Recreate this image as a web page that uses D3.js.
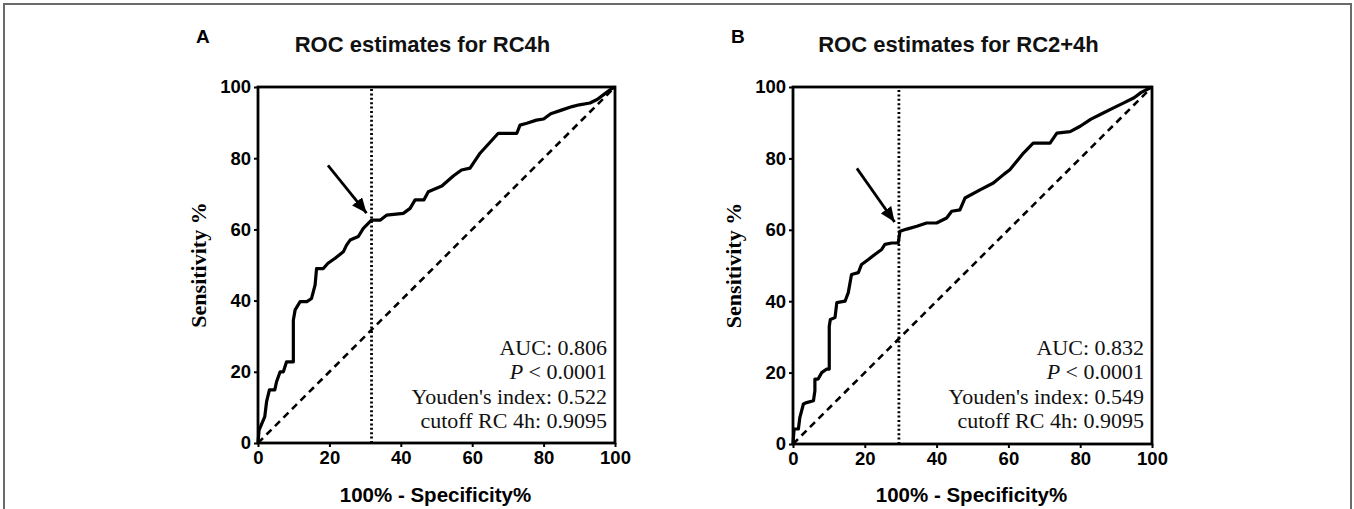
<!DOCTYPE html>
<html>
<head>
<meta charset="utf-8">
<script src="https://cdn.jsdelivr.net/npm/d3@7"></script>
<style>
  body { margin: 0; background: #fff; }
  svg { display: block; }
</style>
</head>
<body>
<svg id="chart" width="1354" height="509"></svg>
<script>
// DATA
// ROC points as [100% - specificity, sensitivity]
const rocA = [
  [0, 0], [0.3, 3.6], [1.9, 7.4], [2.4, 11.6], [3.2, 14.9], [4.7, 14.9], [5.2, 17.2],
  [6.2, 20], [7.1, 20], [8, 22.8], [9.9, 22.8], [9.9, 34.5], [10.4, 37.4], [11.8, 39.7],
  [13.7, 39.7], [15, 40.6], [16, 44.4], [16.4, 49], [18.3, 49], [19.6, 50.5], [21.6, 51.9],
  [23.9, 53.7], [24.8, 55.6], [25.8, 57], [28.1, 58], [29.5, 60.3], [31.8, 62.6],
  [34.2, 62.6], [36, 64], [40.7, 64.5], [42.6, 65.9], [44, 68.3], [46.5, 68.3], [47.7, 70.6],
  [51.5, 72.2], [54.7, 75], [57, 76.7], [59.4, 77.2], [62.2, 81.4], [67.3, 87], [72.5, 87],
  [73.4, 89.3], [75.3, 89.8], [78, 90.7], [80, 91], [82, 92.5], [85, 93.5], [88, 94.5],
  [90, 95], [93, 95.5], [95, 96.5], [97, 98], [99, 99.5], [100, 100]
];
const rocB = [
  [0, 0], [0.3, 4.2], [1.5, 4.2], [1.9, 7.4], [2.9, 11.2], [3.8, 11.6], [5.7, 12.1],
  [6.1, 14.9], [6.1, 18.2], [7, 18.2], [8, 20], [9.4, 21], [10.1, 21], [10.1, 33],
  [10.4, 34.9], [11.7, 35.4], [12.2, 39.6], [14.5, 40], [15.4, 42.4], [16.3, 47.5],
  [18.2, 48], [19.1, 50.3], [21, 51.7], [22.8, 53.1], [24.7, 54.5], [25.6, 55.9],
  [27.5, 56.3], [29.3, 56.3], [29.8, 59.6], [31.7, 60.2], [34.5, 61], [37.2, 61.9],
  [40, 61.9], [42.8, 63.3], [44.2, 65.2], [46.5, 65.6], [47.9, 68.9], [52.1, 71.2],
  [55.8, 73.1], [58.8, 75.6], [60.4, 76.8], [64.2, 81.5], [66.9, 84.3], [71.6, 84.3],
  [73.5, 87.1], [77.2, 87.5], [80, 89], [83, 91], [86, 92.5], [89, 94], [92, 95.5],
  [95, 97], [97, 98.5], [99, 99.5], [100, 100]
];
const chance = [[0, 0], [100, 100]];

const xTicks = [0, 20, 40, 60, 80, 100];
const yTicks = [0, 20, 40, 60, 80, 100];

const cutoffA = 31.8;
const cutoffB = 29.5;

// arrow [start, tip] in data units
const arrowA = [[19.6, 78], [30.4, 64.6]];
const arrowB = [[17.8, 77.2], [28.3, 62.2]];

const statsA = ["AUC: 0.806", "P|< 0.0001", "Youden's index: 0.522", "cutoff RC 4h: 0.9095"];
const statsB = ["AUC: 0.832", "P|< 0.0001", "Youden's index: 0.549", "cutoff RC 4h: 0.9095"];

const panels = [
  { letter: "A", title: "ROC estimates for RC4h", roc: rocA, cutoff: cutoffA, arrow: arrowA,
    stats: statsA, xRange: [258, 615], yRange: [443, 87] },
  { letter: "B", title: "ROC estimates for RC2+4h", roc: rocB, cutoff: cutoffB, arrow: arrowB,
    stats: statsB, xRange: [793, 1152], yRange: [444, 87] }
];

const SANS = "'Liberation Sans', Arial, sans-serif";
const SERIF = "'Liberation Serif', 'Times New Roman', serif";

const svg = d3.select("#chart");

// outer frame (bottom edge is cut off)
svg.append("path")
    .attr("d", "M4,509V4H1351V509")
    .attr("fill", "none")
    .attr("stroke", "#6a6a6a")
    .attr("stroke-width", 2);

// arrow head
svg.append("defs").append("marker")
    .attr("id", "head")
    .attr("markerUnits", "userSpaceOnUse")
    .attr("viewBox", "0 0 14 12")
    .attr("refX", 14)
    .attr("refY", 6)
    .attr("markerWidth", 15)
    .attr("markerHeight", 13)
    .attr("orient", "auto")
  .append("path")
    .attr("d", "M0,0L14,6L0,12Z")
    .attr("fill", "#000");

function drawPanel(p) {
  const x = d3.scaleLinear().domain([0, 100]).range(p.xRange);
  const y = d3.scaleLinear().domain([0, 100]).range(p.yRange);
  const g = svg.append("g");
  const cx = (p.xRange[0] + p.xRange[1]) / 2;

  // letter and title
  g.append("text")
      .attr("x", p.xRange[0] - 62)
      .attr("y", 43)
      .attr("font-family", SANS)
      .attr("font-weight", "bold")
      .attr("font-size", 19)
      .text(p.letter);

  g.append("text")
      .attr("x", cx - 14)
      .attr("y", 52)
      .attr("text-anchor", "middle")
      .attr("font-family", SANS)
      .attr("font-weight", "bold")
      .attr("font-size", 22)
      .attr("fill", "#111")
      .text(p.title);

  // axes
  g.append("g")
      .attr("transform", `translate(0,${p.yRange[0]})`)
      .call(d3.axisBottom(x).tickValues(xTicks).tickSize(4).tickPadding(4))
      .call(ax => {
        ax.select(".domain").remove();
        ax.selectAll("line").attr("stroke-width", 2);
        ax.selectAll("text")
            .attr("font-family", SANS)
            .attr("font-weight", "bold")
            .attr("font-size", 18.5)
            .attr("fill", "#000");
      });

  g.append("g")
      .attr("transform", `translate(${p.xRange[0]},0)`)
      .call(d3.axisLeft(y).tickValues(yTicks).tickSize(4).tickPadding(3))
      .call(ax => {
        ax.select(".domain").remove();
        ax.selectAll("line").attr("stroke-width", 2);
        ax.selectAll("text")
            .attr("font-family", SANS)
            .attr("font-weight", "bold")
            .attr("font-size", 18.5)
            .attr("fill", "#000");
      });

  // plot frame
  g.append("rect")
      .attr("x", x(0))
      .attr("y", y(100))
      .attr("width", x(100) - x(0))
      .attr("height", y(0) - y(100))
      .attr("fill", "none")
      .attr("stroke", "#000")
      .attr("stroke-width", 2.8);

  // axis titles
  g.append("text")
      .attr("x", cx - 1)
      .attr("y", 502)
      .attr("text-anchor", "middle")
      .attr("font-family", SANS)
      .attr("font-weight", "bold")
      .attr("font-size", 20.5)
      .attr("fill", "#000")
      .text("100% - Specificity%");

  g.append("text")
      .attr("transform", `translate(${p.xRange[0] - 52},${(p.yRange[0] + p.yRange[1]) / 2}) rotate(-90)`)
      .attr("text-anchor", "middle")
      .attr("font-family", SERIF)
      .attr("font-weight", "bold")
      .attr("font-size", 22)
      .attr("fill", "#000")
      .text("Sensitivity %");

  const line = d3.line().x(d => x(d[0])).y(d => y(d[1]));

  // chance diagonal
  g.append("path")
      .attr("d", line(chance))
      .attr("fill", "none")
      .attr("stroke", "#000")
      .attr("stroke-width", 2.6)
      .attr("stroke-dasharray", "7,5");

  // cutoff dotted line
  g.append("path")
      .attr("d", line([[p.cutoff, 0], [p.cutoff, 100]]))
      .attr("fill", "none")
      .attr("stroke", "#000")
      .attr("stroke-width", 2.8)
      .attr("stroke-dasharray", "2,2.4");

  // roc curve
  g.append("path")
      .attr("d", line(p.roc))
      .attr("fill", "none")
      .attr("stroke", "#000")
      .attr("stroke-width", 3.2)
      .attr("stroke-linejoin", "round");

  // arrow
  g.append("path")
      .attr("d", line(p.arrow))
      .attr("stroke", "#000")
      .attr("stroke-width", 2.8)
      .attr("marker-end", "url(#head)");

  // stats text
  const st = g.append("g")
      .attr("font-family", SERIF)
      .attr("font-size", 22)
      .attr("fill", "#111")
      .attr("text-anchor", "end");

  p.stats.forEach((s, i) => {
    const t = st.append("text")
        .attr("x", x(100) - 8)
        .attr("y", 355 + i * 24.3);
    if (s.includes("|")) {
      const [a, b] = s.split("|");
      t.append("tspan").attr("font-style", "italic").text(a);
      t.append("tspan").text(" " + b);
    } else {
      t.text(s);
    }
  });
}

panels.forEach(drawPanel);
</script>
</body>
</html>
